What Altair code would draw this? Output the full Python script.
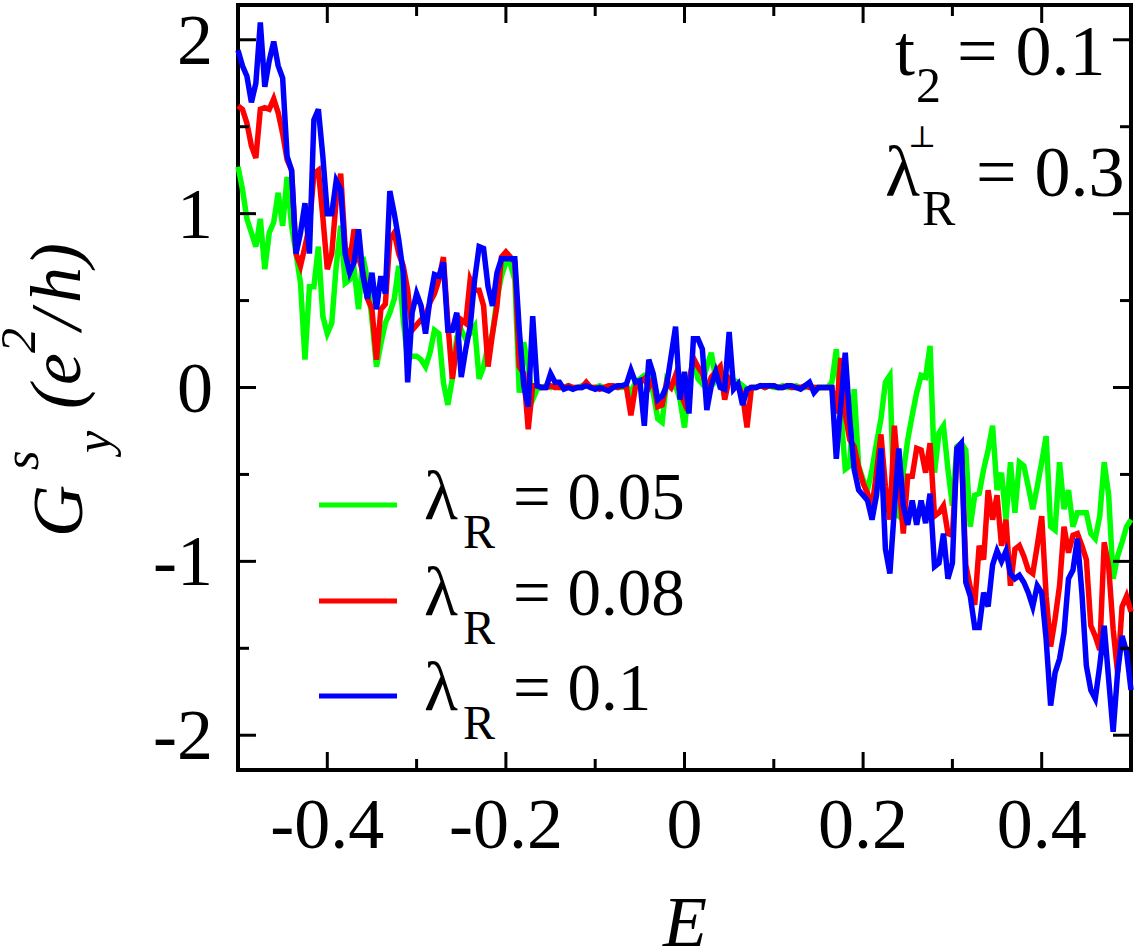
import altair as alt
import pandas as pd

# ---------------- data ----------------
E = [round(-0.5 + 0.005 * i, 3) for i in range(201)]

G_005 = [
    1.27, 1.14, 0.97, 0.89, 0.81, 0.97, 0.68, 0.89, 0.95, 1.12,
    0.93, 1.21, 0.93, 0.77, 0.60, 0.16, 0.58, 0.58, 0.81, 0.41,
    0.31, 0.37, 0.70, 0.93, 0.60, 0.62, 0.68, 0.45, 0.75, 0.62,
    0.39, 0.12, 0.25, 0.37, 0.43, 0.51, 0.70, 0.39, 0.16, 0.18,
    0.18, 0.16, 0.12, 0.20, 0.33, 0.31, 0.03, -0.10, 0.05, 0.29,
    0.33, 0.28, 0.31, 0.35, 0.05, 0.12, 0.24, 0.31, 0.51, 0.64,
    0.72, 0.71, 0.62, -0.03, 0.26, 0.12, -0.07, -0.01, 0.00, 0.01,
    0.00, 0.01, 0.00, 0.00, 0.01, 0.00, 0.00, 0.01, 0.02, 0.00,
    0.00, 0.01, 0.00, 0.00, 0.01, 0.00, 0.00, 0.01, -0.03, 0.03,
    0.05, 0.07, 0.06, -0.03, -0.18, -0.20, 0.04, 0.00, 0.01, -0.07,
    -0.23, 0.01, 0.16, 0.05, 0.02, 0.12, 0.20, 0.05, 0.10, 0.07,
    0.04, 0.04, 0.03, 0.01, -0.01, 0.00, 0.00, 0.01, 0.00, 0.01,
    0.00, 0.00, 0.01, 0.00, 0.00, 0.01, 0.00, 0.00, 0.01, 0.00,
    0.00, 0.00, 0.00, 0.03, 0.22, -0.13, -0.47, -0.45, -0.01, -0.45,
    -0.53, -0.59, -0.47, -0.32, -0.18, 0.03, 0.07, -0.72, -0.74, -0.49,
    -0.30, -0.16, -0.03, 0.07, 0.06, 0.24, -0.49, -0.26, -0.22, -0.47,
    -0.68, -0.34, -0.32, -0.36, -0.80, -0.62, -0.61, -0.47, -0.36, -0.22,
    -0.59, -0.49, -0.76, -0.43, -0.72, -0.43, -0.45, -0.57, -0.70, -0.57,
    -0.43, -0.28, -0.80, -0.82, -0.43, -0.70, -0.59, -0.80, -0.72, -0.72,
    -0.72, -0.84, -0.87, -0.74, -0.43, -0.62, -1.10, -0.97, -0.89, -0.80,
    -0.76,
]

G_008 = [
    1.62, 1.60, 1.52, 1.39, 1.32, 1.60, 1.61, 1.60, 1.66, 1.58,
    1.46, 1.31, 1.25, 0.77, 0.70, 0.81, 0.93, 1.23, 1.25, 0.98,
    0.68, 0.77, 1.08, 1.23, 0.81, 0.72, 0.91, 0.75, 0.66, 0.51,
    0.45, 0.16, 0.45, 0.48, 0.85, 0.89, 0.77, 0.70, 0.56, 0.33,
    0.36, 0.39, 0.41, 0.49, 0.54, 0.62, 0.75, 0.37, 0.05, 0.24,
    0.39, 0.37, 0.62, 0.56, 0.56, 0.47, 0.12, 0.31, 0.47, 0.75,
    0.78, 0.75, 0.72, 0.12, 0.08, -0.24, 0.01, 0.01, 0.00, 0.00,
    0.01, 0.00, 0.00, 0.00, 0.01, 0.00, 0.00, 0.00, 0.03, 0.00,
    0.00, -0.01, 0.00, 0.01, 0.01, 0.00, 0.01, 0.00, -0.16, 0.00,
    0.03, 0.05, 0.00, 0.05, -0.11, -0.10, 0.03, 0.00, 0.07, -0.03,
    -0.09, 0.03, 0.17, 0.12, 0.08, -0.01, 0.06, 0.09, 0.12, -0.07,
    0.05, 0.02, 0.01, -0.04, -0.23, 0.00, 0.00, 0.01, 0.00, 0.01,
    0.01, 0.00, 0.00, 0.01, 0.00, 0.00, 0.00, 0.01, 0.00, 0.00,
    0.00, 0.00, 0.00, 0.00, -0.15, 0.17, -0.15, -0.30, -0.34, -0.46,
    -0.55, -0.61, -0.69, -0.49, -0.27, -0.57, -0.76, -0.22, -0.53, -0.84,
    -0.51, -0.51, -0.35, -0.36, -0.49, -0.32, -0.74, -0.72, -0.68, -0.84,
    -0.85, -0.39, -0.34, -1.02, -1.15, -1.25, -0.91, -0.99, -0.59, -0.76,
    -0.62, -0.91, -0.76, -1.14, -0.93, -0.91, -0.97, -1.05, -1.07, -0.91,
    -0.74, -1.20, -1.49, -1.33, -1.14, -0.80, -0.95, -0.85, -0.84, -0.91,
    -0.99, -1.37, -1.43, -1.51, -0.89, -1.03, -1.39, -1.64, -1.26, -1.20,
    -1.29,
]

G_010 = [
    1.94, 1.85, 1.79, 1.64, 1.75, 2.10, 1.73, 1.88, 1.99, 1.85,
    1.78, 1.33, 1.25, 0.77, 0.89, 1.06, 0.77, 1.54, 1.60, 1.33,
    1.00, 1.00, 1.19, 1.14, 0.77, 0.66, 0.72, 0.91, 0.64, 0.51,
    0.66, 0.45, 0.64, 0.54, 1.13, 1.00, 0.85, 0.66, 0.03, 0.43,
    0.54, 0.47, 0.31, 0.51, 0.65, 0.64, 0.72, 0.33, 0.33, 0.43,
    0.06, 0.22, 0.35, 0.62, 0.81, 0.80, 0.58, 0.47, 0.66, 0.74,
    0.74, 0.74, 0.74, 0.33, 0.01, -0.11, 0.41, 0.01, 0.00, 0.00,
    0.08, 0.03, 0.03, -0.01, 0.00, -0.01, 0.00, 0.00, 0.01, 0.00,
    -0.01, 0.00, -0.01, -0.02, 0.00, 0.01, 0.01, 0.02, 0.10, 0.03,
    0.04, -0.22, 0.16, 0.08, -0.07, -0.05, 0.01, 0.18, 0.35, -0.07,
    0.09, -0.15, 0.28, 0.28, 0.22, -0.13, 0.01, 0.09, 0.00, -0.01,
    0.32, -0.01, 0.02, -0.10, -0.01, 0.00, 0.00, 0.01, 0.01, 0.01,
    0.01, 0.00, 0.00, 0.01, 0.01, 0.00, -0.01, 0.01, 0.03, -0.03,
    0.00, 0.00, 0.00, 0.00, -0.41, -0.10, 0.20, -0.18, -0.47, -0.59,
    -0.62, -0.65, -0.76, -0.62, -0.35, -0.93, -1.07, -0.70, -0.35, -0.68,
    -0.79, -0.65, -0.79, -0.65, -0.78, -0.61, -1.03, -1.01, -0.84, -1.10,
    -1.01, -0.35, -0.32, -1.12, -1.20, -1.38, -1.38, -1.18, -1.26, -1.02,
    -0.94, -1.00, -0.94, -1.07, -1.10, -1.08, -1.12, -1.18, -1.26, -1.14,
    -1.18, -1.45, -1.83, -1.64, -1.56, -1.41, -1.10, -1.05, -0.87, -1.18,
    -1.60, -1.74, -1.79, -1.60, -1.37, -1.68, -1.98, -1.64, -1.43, -1.52,
    -1.74,
]

series_labels = ["0.05", "0.08", "0.1"]
series_colors = ["#00ff00", "#ff0000", "#0000ff"]
x_major = [-0.4, -0.2, 0, 0.2, 0.4]
x_major_labels = ["-0.4", "-0.2", "0", "0.2", "0.4"]
x_minor = [-0.3, -0.1, 0.1, 0.3]
y_major = [-2, -1, 0, 1, 2]
y_major_labels = ["-2", "-1", "0", "1", "2"]
y_minor = [-1.5, -0.5, 0.5, 1.5]

# ---------------- layout ----------------
W, H = 893, 765
LEFT, TOP = 238, 5
FONT = "Liberation Serif"
MAJ, MIN = 18, 11

xs = alt.Scale(domain=[-0.5, 0.5], nice=False, zero=False)
ys = alt.Scale(domain=[-2.2, 2.2], nice=False, zero=False)

layers = []
for lab, vals, col in zip(series_labels, [G_005, G_008, G_010], series_colors):
    df = pd.DataFrame({"E": E, "G": vals})
    layers.append(
        alt.Chart(df).mark_line(color=col, strokeWidth=5.5, strokeJoin="miter", strokeMiterLimit=4).encode(
            x=alt.X("E:Q", scale=xs, axis=None),
            y=alt.Y("G:Q", scale=ys, axis=None),
        )
    )

def xticks(vals, length):
    d = pd.DataFrame({"v": vals})
    base = alt.Chart(d).mark_rule(color="black", strokeWidth=3)
    bottom = base.encode(x=alt.X("v:Q", scale=xs, axis=None), y=alt.value(H), y2=alt.value(H - length))
    top = base.encode(x=alt.X("v:Q", scale=xs, axis=None), y=alt.value(0), y2=alt.value(length))
    return [bottom, top]

def yticks(vals, length):
    d = pd.DataFrame({"v": vals})
    base = alt.Chart(d).mark_rule(color="black", strokeWidth=3)
    left = base.encode(y=alt.Y("v:Q", scale=ys, axis=None), x=alt.value(0), x2=alt.value(length))
    right = base.encode(y=alt.Y("v:Q", scale=ys, axis=None), x=alt.value(W), x2=alt.value(W - length))
    return [left, right]

layers += xticks(x_major, MAJ) + xticks(x_minor, MIN) + yticks(y_major, MAJ) + yticks(y_minor, MIN)

xl = pd.DataFrame({"v": x_major, "t": x_major_labels})
layers.append(
    alt.Chart(xl).mark_text(font=FONT, fontSize=72, align="center", baseline="alphabetic", color="black").encode(
        x=alt.X("v:Q", scale=xs, axis=None), y=alt.value(H + 78), text="t:N"
    )
)
yl = pd.DataFrame({"v": y_major, "t": y_major_labels})
layers.append(
    alt.Chart(yl).mark_text(font=FONT, fontSize=72, align="right", baseline="alphabetic", dy=24, color="black").encode(
        y=alt.Y("v:Q", scale=ys, axis=None), x=alt.value(-25), text="t:N"
    )
)

one = pd.DataFrame({"k": [0]})

def txt(s, x, y, size=70, style="normal", angle=0, font=FONT, align="left"):
    return alt.Chart(one).mark_text(
        text=s, font=font, fontSize=size, fontStyle=style, align=align,
        baseline="alphabetic", angle=angle, color="black",
    ).encode(x=alt.value(x - LEFT), y=alt.value(y - TOP))

legend_rows = [505, 601, 696]
for lab, col, ly in zip(series_labels, series_colors, legend_rows):
    layers.append(
        alt.Chart(one).mark_rule(color=col, strokeWidth=5).encode(
            x=alt.value(319 - LEFT), x2=alt.value(397 - LEFT), y=alt.value(ly - TOP)
        )
    )
    layers.append(txt("λ", 424, ly + 14, size=70))
    layers.append(txt("R", 463, ly + 43, size=48))
    layers.append(txt("= " + lab, 513, ly + 14, size=67))

layers += [
    txt("t", 895, 75, size=72),
    txt("2", 916, 102, size=50),
    txt("= 0.1", 957, 75, size=72),
    txt("λ", 885, 196, size=72),
    txt("⊥", 908, 147, size=30, font="DejaVu Serif"),
    txt("R", 922, 225, size=50),
    txt("= 0.3", 976, 196, size=72),
]

layers += [
    txt("E", 685, 946, size=72, style="italic", align="center"),
    txt("G", 82, 537, size=72, style="italic", angle=270),
    txt("s", 38, 470, size=50, style="italic", angle=270),
    txt("y", 110, 453, size=50, style="italic", angle=270),
    txt("(e", 80, 409, size=72, style="italic", angle=270),
    txt("2", 35, 353, size=50, style="italic", angle=270),
    txt("/", 80, 330, size=72, style="italic", angle=270),
    txt("h)", 80, 303, size=72, style="italic", angle=270),
]

chart = alt.layer(*layers).properties(
    width=W, height=H,
    padding={"left": LEFT, "top": TOP, "right": 1138 - LEFT - W, "bottom": 950 - TOP - H},
    autosize=alt.AutoSizeParams(type="none"),
    background="white",
).configure_view(stroke="black", strokeWidth=4)

chart.save("out.html", embed_options={"renderer": "svg", "actions": False})
